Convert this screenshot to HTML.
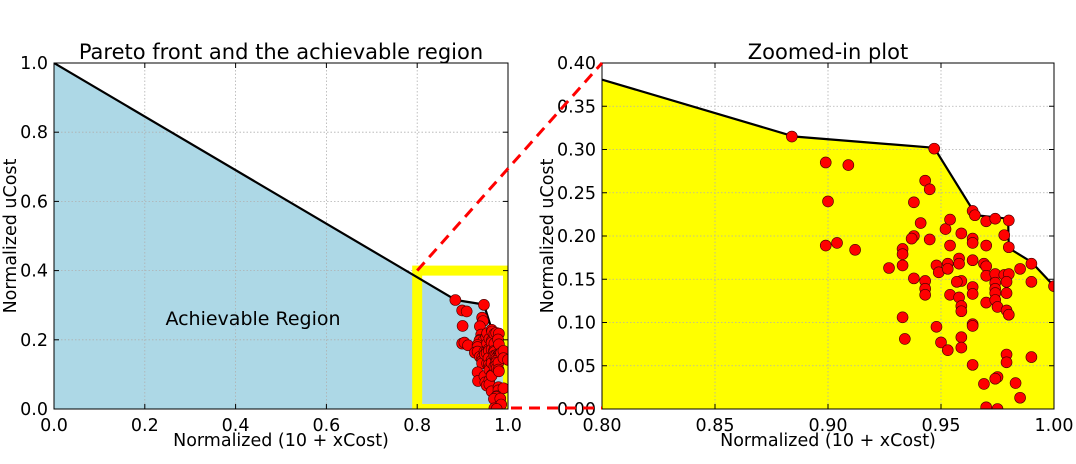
<!DOCTYPE html>
<html><head><meta charset="utf-8">
<style>
body{margin:0;background:#fff;}
svg{display:block;font-family:"DejaVu Sans","Liberation Sans",sans-serif;}
</style></head>
<body>
<svg id="chart" width="1076" height="464" viewBox="0 0 1076 464" xmlns="http://www.w3.org/2000/svg">
<defs>
<clipPath id="clipL"><rect x="54" y="63" width="454" height="346"/></clipPath>
<clipPath id="clipR"><rect x="602" y="63" width="452" height="346"/></clipPath>
</defs>
<g id="left"></g>
<g id="right"></g>
<g id="conn"></g>
</svg>
<script>
const frontX = [0.0, 0.885, 0.947, 0.9655, 0.9797, 0.980, 0.990, 1.0];
const frontY = [1.0, 0.315, 0.302, 0.224, 0.220, 0.186, 0.170, 0.142];
const ptsX = [0.884,0.947,0.899,0.909,0.900,0.899,0.904,0.912,0.943,0.945,0.938,0.941,0.938,0.937,0.945,0.933,0.933,0.927,0.933,0.938,0.943,0.943,0.943,0.933,0.934,0.948,0.950,0.953,0.948,0.949,0.953,0.953,0.954,0.952,0.954,0.954,0.959,0.958,0.958,0.959,0.957,0.958,0.959,0.959,0.959,0.959,0.964,0.965,0.964,0.964,0.964,0.964,0.964,0.964,0.964,0.964,0.970,0.974,0.980,0.970,0.969,0.970,0.970,0.970,0.978,0.980,0.974,0.978,0.980,0.974,0.979,0.974,0.974,0.974,0.975,0.979,0.979,0.980,0.985,0.990,0.990,0.979,0.979,0.990,0.975,0.974,0.969,0.983,0.985,0.970,0.975,1.0];
const ptsY = [0.315,0.301,0.285,0.282,0.240,0.189,0.192,0.184,0.264,0.254,0.239,0.215,0.200,0.197,0.196,0.185,0.179,0.163,0.166,0.151,0.148,0.139,0.132,0.106,0.081,0.095,0.077,0.068,0.166,0.158,0.168,0.162,0.132,0.208,0.219,0.189,0.203,0.174,0.168,0.148,0.147,0.129,0.119,0.113,0.083,0.071,0.229,0.224,0.197,0.192,0.172,0.141,0.133,0.098,0.096,0.051,0.217,0.220,0.218,0.189,0.168,0.165,0.154,0.123,0.201,0.187,0.156,0.155,0.156,0.146,0.147,0.139,0.134,0.126,0.118,0.134,0.114,0.109,0.162,0.168,0.147,0.063,0.054,0.060,0.037,0.035,0.029,0.030,0.013,0.002,0.0,0.142];
const leftXTicks = [0,0.2,0.4,0.6,0.8,1.0];
const leftYTicks = [0,0.2,0.4,0.6,0.8,1.0];
const rightXTicks = [0.80,0.85,0.90,0.95,1.00];
const rightYTicks = [0,0.05,0.10,0.15,0.20,0.25,0.30,0.35,0.40];

const NS="http://www.w3.org/2000/svg";
function mk(parent, tag, attrs, name, text){
  const e=document.createElementNS(NS,tag);
  for(const k in attrs) e.setAttribute(k,attrs[k]);
  
  
  if(text!==undefined) e.textContent=text;
  parent.appendChild(e); return e;
}
function axis(g, x0,x1,px0,px1,y0,y1,py0,py1, xt, yt, fill, clip){
  const sx=v=>px0+(v-x0)/(x1-x0)*(px1-px0);
  const sy=v=>py0-(v-y0)/(y1-y0)*(py0-py1);
  mk(g,'rect',{x:px0,y:py1,width:px1-px0,height:py0-py1,fill:'#fff'},'plot-background');
  let d='M'+sx(0)+','+sy(0)+' ';
  frontX.forEach((v,i)=>{d+='L'+sx(v)+','+sy(frontY[i])+' ';});
  d+='L'+sx(1)+','+sy(0)+'Z';
  const cg=mk(g,'g',{'clip-path':'url(#'+clip+')'},'plot-area');
  mk(cg,'path',{d:d,fill:fill,stroke:'none'},'achievable-region-fill');
  xt.forEach(v=>mk(g,'line',{x1:sx(v),x2:sx(v),y1:py1,y2:py0,stroke:'#b0b0b0','stroke-dasharray':'1.5,2','stroke-width':0.8},'x-grid-line'));
  yt.forEach(v=>mk(g,'line',{x1:px0,x2:px1,y1:sy(v),y2:sy(v),stroke:'#b0b0b0','stroke-dasharray':'1.5,2','stroke-width':0.8},'y-grid-line'));
  const cg2=mk(g,'g',{'clip-path':'url(#'+clip+')'},'series-layer');
  return {sx,sy,cg2};
}
function finish(g,px0,px1,py0,py1,sx,sy,xt,yt,xdec,ydec,title,cx){
  mk(g,'rect',{x:px0,y:py1,width:px1-px0,height:py0-py1,fill:'none',stroke:'#000','stroke-width':1},'axes-frame');
  xt.forEach(v=>{
    mk(g,'line',{x1:sx(v),x2:sx(v),y1:py0,y2:py0-5,stroke:'#000'},'x-tick');
    mk(g,'line',{x1:sx(v),x2:sx(v),y1:py1,y2:py1+5,stroke:'#000'},'x-tick');
    mk(g,'text',{x:sx(v),y:py0+22,'text-anchor':'middle','font-size':17.5},'x-tick-label',v.toFixed(xdec));
  });
  yt.forEach(v=>{
    mk(g,'line',{x1:px0,x2:px0+5,y1:sy(v),y2:sy(v),stroke:'#000'},'y-tick');
    mk(g,'line',{x1:px1,x2:px1-5,y1:sy(v),y2:sy(v),stroke:'#000'},'y-tick');
    mk(g,'text',{x:px0-6,y:sy(v)+6,'text-anchor':'end','font-size':17.5},'y-tick-label',v.toFixed(ydec));
  });
  mk(g,'text',{x:(px0+px1)/2,y:59,'text-anchor':'middle','font-size':21},'chart-title',title);
  mk(g,'text',{x:(px0+px1)/2,y:446,'text-anchor':'middle','font-size':17.5},'x-axis-title','Normalized (10 + xCost)');
  mk(g,'text',{x:cx,y:236,'text-anchor':'middle','font-size':17.5,transform:'rotate(-90 '+cx+' 236)'},'y-axis-title','Normalized uCost');
}
function series(cg,sx,sy){
  let d='';
  frontX.forEach((v,i)=>{d+=(i?'L':'M')+sx(v)+','+sy(frontY[i])+' ';});
  mk(cg,'path',{d:d,fill:'none',stroke:'#000','stroke-width':2.2},'pareto-front-line');
  ptsX.forEach((v,i)=>mk(cg,'circle',{cx:sx(v),cy:sy(ptsY[i]),r:5.5,fill:'#f00',stroke:'#400','stroke-width':0.6},'solution-point'));
}
const L=document.getElementById('left');
let a=axis(L,0,1,54,508,0,1,409,63,leftXTicks,leftYTicks,'#add8e6','clipL');
mk(a.cg2,'rect',{x:a.sx(0.8),y:a.sy(0.4),width:a.sx(1)-a.sx(0.8),height:a.sy(0)-a.sy(0.4),fill:'none',stroke:'#ffff00','stroke-width':10},'zoom-region-box');
series(a.cg2,a.sx,a.sy);
mk(L,'text',{x:253,y:325,'text-anchor':'middle','font-size':19},'achievable-region-label','Achievable Region');
finish(L,54,508,409,63,a.sx,a.sy,leftXTicks,leftYTicks,1,1,'Pareto front and the achievable region',16);
const LS=a;
const R=document.getElementById('right');
let b=axis(R,0.8,1,602,1054,0,0.4,409,63,rightXTicks,rightYTicks,'#ffff00','clipR');
series(b.cg2,b.sx,b.sy);
finish(R,602,1054,409,63,b.sx,b.sy,rightXTicks,rightYTicks,2,2,'Zoomed-in plot',553);
const C=document.getElementById('conn');
mk(C,'line',{x1:LS.sx(0.8),y1:LS.sy(0.4),x2:602,y2:63,stroke:'#f00','stroke-width':3,'stroke-dasharray':'11,7'},'zoom-connector-top');
mk(C,'line',{x1:LS.sx(1.0)+3,y1:LS.sy(0)-1,x2:602,y2:408,stroke:'#f00','stroke-width':3,'stroke-dasharray':'11,7'},'zoom-connector-bottom');
</script>
</body></html>
